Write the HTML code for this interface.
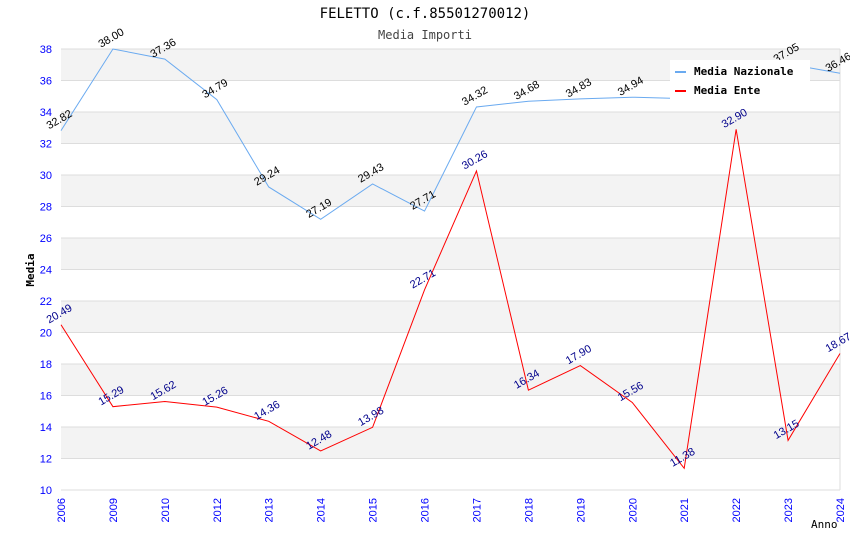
<!DOCTYPE html>
<html><head><meta charset="utf-8"><style>
body{margin:0;background:#fff;}
text{font-family:"Liberation Sans","DejaVu Sans",sans-serif;}
</style></head><body>
<svg id="chart" width="850" height="550" xmlns="http://www.w3.org/2000/svg">
<text x="425" y="18" text-anchor="middle" font-size="14" fill="#000" style="font-family:'DejaVu Sans Mono','Liberation Mono',monospace">FELETTO (c.f.85501270012)</text>
<text x="425" y="39" text-anchor="middle" font-size="12" fill="#444" style="font-family:'DejaVu Sans Mono','Liberation Mono',monospace">Media Importi</text>
<g id="bands"></g><g id="grid"></g><g id="axes"></g><g id="series"></g>
<text transform="translate(34,270) rotate(-90)" text-anchor="middle" font-size="11" font-weight="bold" style="font-family:'DejaVu Sans Mono','Liberation Mono',monospace">Media</text>
<text x="811" y="528" font-size="11" style="font-family:'DejaVu Sans Mono','Liberation Mono',monospace">Anno</text>
<g>
<rect x="670" y="60" width="140" height="40" fill="#fff"/>
<rect x="675" y="71" width="11" height="2" fill="#6aaaf0"/>
<text x="694" y="75" font-size="11" font-weight="bold" style="font-family:'DejaVu Sans Mono','Liberation Mono',monospace">Media Nazionale</text>
<rect x="675" y="90" width="11" height="2" fill="#f00"/>
<text x="694" y="94" font-size="11" font-weight="bold" style="font-family:'DejaVu Sans Mono','Liberation Mono',monospace">Media Ente</text>
</g>
<g id="toplabels"></g>
</svg>
<script>
const categories=["2006","2009","2010","2012","2013","2014","2015","2016","2017","2018","2019","2020","2021","2022","2023","2024"];
const nazionaleFull=[32.82,38.00,37.36,34.79,29.24,27.19,29.43,27.71,34.32,34.68,34.83,34.94,34.85,35.9,37.05,36.46];
const ente=[20.49,15.29,15.62,15.26,14.36,12.48,13.98,22.71,30.26,16.34,17.90,15.56,11.38,32.90,13.15,18.67];
const yTicks=[10,12,14,16,18,20,22,24,26,28,30,32,34,36,38];
const showNazLabel=[1,1,1,1,1,1,1,1,1,1,1,1,0,0,1,1];
const X0=61,X1=840,Y0=490,Y1=49,YMIN=10,YMAX=38;
const xs=i=>X0+(X1-X0)*i/(categories.length-1);
const ys=v=>Y0-(v-YMIN)/(YMAX-YMIN)*(Y0-Y1);
const NS="http://www.w3.org/2000/svg";
function mk(tag,attrs,parent){const e=document.createElementNS(NS,tag);for(const k in attrs)e.setAttribute(k,attrs[k]);document.getElementById(parent).appendChild(e);return e;}
for(let i=0;i<yTicks.length-1;i++){
 const a=yTicks[i],b=yTicks[i+1];
 const r=mk('rect',{x:X0,y:ys(b),width:X1-X0,height:ys(a)-ys(b),fill:(i%2==1)?'#f3f3f3':'#fff'},'bands');
 
 
}
yTicks.forEach(t=>{
 const l=mk('line',{x1:X0,x2:X1,y1:ys(t),y2:ys(t),stroke:'#ddd','stroke-width':1},'grid');
 
 
 const tx=mk('text',{x:52,y:ys(t)+4,'text-anchor':'end','font-size':11,fill:'#00f'},'axes');
 
 
 tx.textContent=t;
});
const ax=mk('line',{x1:X1,x2:X1,y1:Y1,y2:Y0,stroke:'#ddd'},'grid');


categories.forEach((c,i)=>{
 const x=xs(i);
 const t=mk('text',{transform:`translate(${x+4},${Y0+8}) rotate(-90)`,'text-anchor':'end','font-size':11,fill:'#00f'},'axes');
 
 
 t.textContent=c;
});
function series(vals,color,lblColor,name,show,lblParent){
 const p=mk('polyline',{points:vals.map((v,i)=>xs(i)+','+ys(v)).join(' '),fill:'none',stroke:color,'stroke-width':1},'series');
 
 
 vals.forEach((v,i)=>{
  if(show&&!show[i])return;
  const x=xs(i),y=ys(v);
  const t=mk('text',{transform:`translate(${x},${y-8}) rotate(-30)`,'text-anchor':'middle','font-size':11,fill:lblColor},lblParent);
  
  
  t.textContent=v.toFixed(2);
 });
}
series(nazionaleFull,'#6aaaf0','#000','nazionale',showNazLabel,'series');
series(ente,'#f00','#00008b','ente',null,'series');
</script>
</body></html>
